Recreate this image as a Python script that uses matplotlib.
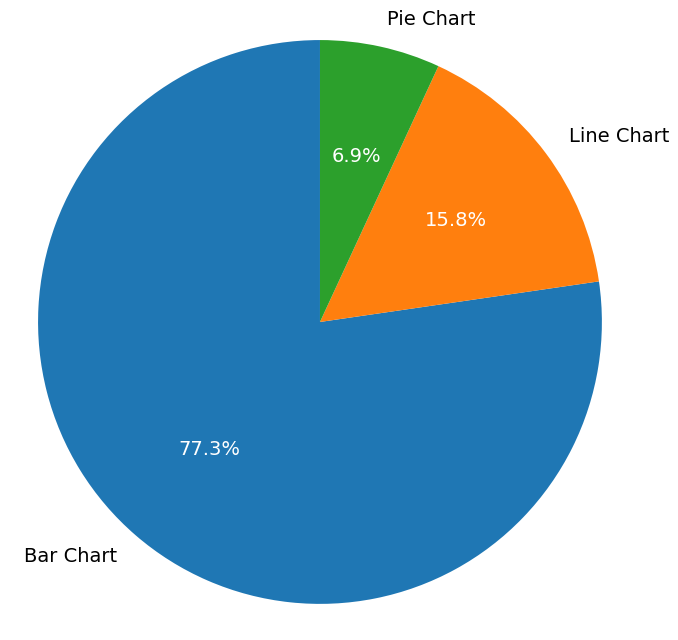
import matplotlib
matplotlib.use("Agg")
import matplotlib.pyplot as plt

labels = ["Bar Chart", "Line Chart", "Pie Chart"]
shares = [77.3, 15.8, 6.9]
colors = ["#1f77b4", "#ff7f0e", "#2ca02c"]


def draw():
    fig = plt.figure(figsize=(6.78, 6.4), dpi=100)
    ax = fig.add_axes([0, 0, 1, 1])
    wedges, texts, autotexts = ax.pie(
        shares, labels=labels, colors=colors, autopct="%1.1f%%",
        startangle=90, textprops={"fontsize": 14})
    for t in autotexts:
        t.set_color("white")
    ax.set_xlim(-1.135, 1.270)
    ax.set_ylim(-1.128, 1.142)
    ax.set_aspect("equal")
    ax.axis("off")
    fig.savefig("out.png", dpi=100)


if __name__ == "__main__":
    draw()
